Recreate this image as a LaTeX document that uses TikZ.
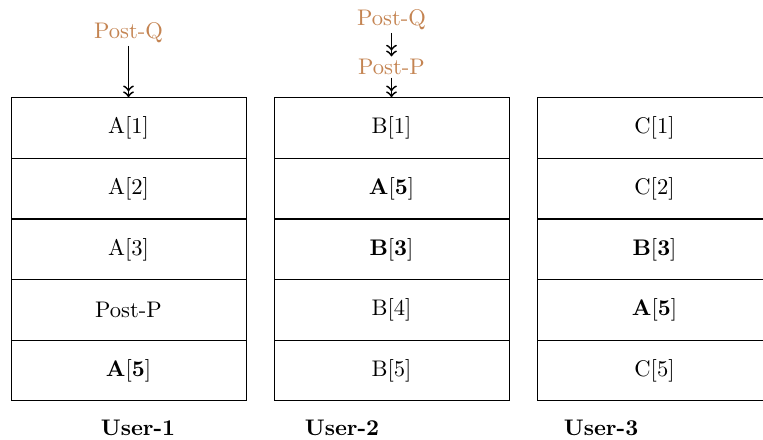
\documentclass[tikz,border=0pt]{standalone}
\usepackage{amsmath}
\usepackage{xcolor}
\usetikzlibrary{calc,arrows}

\definecolor{postc}{RGB}{196,132,82}

\tikzset{
  cell/.style={draw, minimum width=104.1pt, minimum height=26.85pt, inner sep=0pt},
  post/.style={text=postc, inner sep=1pt},
  user/.style={font=\bfseries, inner sep=0pt}
}

\begin{document}
\begin{tikzpicture}[x=0.443pt,y=-0.443pt]

\useasboundingbox (0,0) rectangle (763,439);

% User-1
\node[cell] (a1) at (128.5,128) {A[1]};
\node[cell] (a2) at (128.5,188.5) {A[2]};
\node[cell] (a3) at (128.5,249.5) {A[3]};
\node[cell] (a4) at (128.5,310) {Post-P};
\node[cell] (a5) at (128.5,370.5) {$\mathbf{A[5]}$};

% User-2
\node[cell] (b1) at (391.5,128) {B[1]};
\node[cell] (b2) at (391.5,188.5) {$\mathbf{A[5]}$};
\node[cell] (b3) at (391.5,249.5) {$\mathbf{B[3]}$};
\node[cell] (b4) at (391.5,310) {B[4]};
\node[cell] (b5) at (391.5,370.5) {B[5]};

% User-3
\node[cell] (c1) at (654.5,128) {C[1]};
\node[cell] (c2) at (654.5,188.5) {C[2]};
\node[cell] (c3) at (654.5,249.5) {$\mathbf{B[3]}$};
\node[cell] (c4) at (654.5,310) {$\mathbf{A[5]}$};
\node[cell] (c5) at (654.5,370.5) {C[5]};

% incoming posts
\node[post] (q1) at (128.5,33) {Post-Q};
\node[post] (q2) at (391.5,20) {Post-Q};
\node[post] (p2) at (391.5,67) {Post-P};

\draw[->>,thick] (q1) -- (a1);
\draw[->>,thick] (q2) -- (p2);
\draw[->>,thick] (p2) -- (b1);

\node[user] (u1) at (138,428) {User-1};
\node[user] (u2) at (342,428) {User-2};
\node[user] (u3) at (601,428) {User-3};

\end{tikzpicture}
\end{document}
